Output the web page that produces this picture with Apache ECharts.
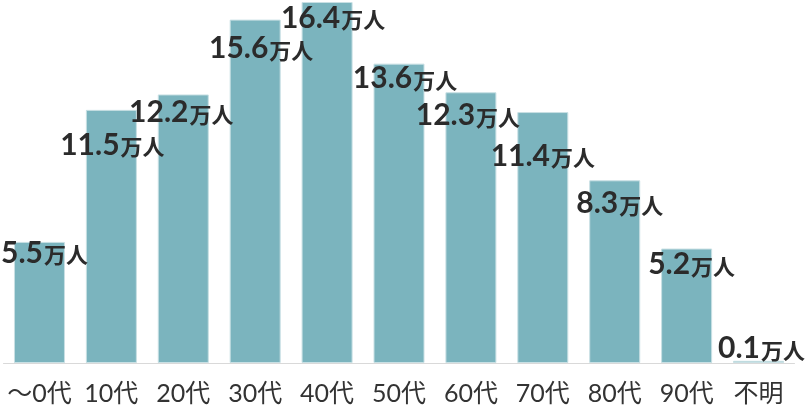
<!DOCTYPE html>
<html>
<head>
<meta charset="utf-8">
<script src="https://cdn.jsdelivr.net/npm/echarts@6/dist/echarts.min.js"></script>
<style>
  html, body { margin: 0; padding: 0; background: #fff; }
  #myCharts { width: 812px; height: 415px; }
</style>
</head>
<body>
<div id="myCharts"></div>
<script>
  // 年代別の人数（万人）
  var categories = ['〜0代', '10代', '20代', '30代', '40代', '50代', '60代', '70代', '80代', '90代', '不明'];
  var values = [5.5, 11.5, 12.2, 15.6, 16.4, 13.6, 12.3, 11.4, 8.3, 5.2, 0.1];
  var unit = '万人';

  // ラベルの位置ずらし（元の図に合わせる）
  var labelDx = [5, 1, -2, 6, 6, 6, -3, 0, 5, 5, 3];
  var labelDy = [11, 35, 18, 29, 16, 15, 23, 44, 23, 16, -12];

  var fontLatin = 'Lato, "Noto Sans CJK JP", sans-serif';

  var seriesData = values.map(function (v, i) {
    return {
      value: v,
      label: {
        position: ['50%', labelDy[i]],
        offset: [labelDx[i], 0]
      }
    };
  });

  var myChart = echarts.init(document.getElementById('myCharts'));
  myChart.setOption({
    animation: false,
    grid: {
      top: 2,
      left: 3.5,
      width: 791,
      bottom: 52
    },
    xAxis: {
      type: 'category',
      data: categories,
      axisTick: { show: false },
      axisLine: {
        lineStyle: { color: '#d9d9d9', width: 1 }
      },
      axisLabel: {
        margin: 18,
        fontSize: 25,
        color: '#333',
        fontFamily: fontLatin,
        interval: 0
      }
    },
    yAxis: {
      type: 'value',
      min: 0,
      max: 16.4,
      show: false,
      splitLine: { show: false }
    },
    series: [{
      type: 'bar',
      barWidth: 51,
      itemStyle: {
        color: '#7BB4BE',
        borderColor: '#c9e0e4',
        borderWidth: 1
      },
      label: {
        show: true,
        align: 'center',
        verticalAlign: 'middle',
        formatter: function (p) {
          return '{n|' + p.value.toFixed(1) + '}{u|' + unit + '}';
        },
        rich: {
          n: {
            fontSize: 30,
            fontWeight: 'bold',
            color: '#2b2b2b',
            fontFamily: fontLatin,
            verticalAlign: 'bottom'
          },
          u: {
            fontSize: 22,
            fontWeight: 'bold',
            color: '#2b2b2b',
            fontFamily: '"Noto Sans CJK JP", sans-serif',
            verticalAlign: 'bottom',
            padding: [0, 0, 2, 1]
          }
        }
      },
      data: seriesData
    }]
  });
</script>
</body>
</html>
